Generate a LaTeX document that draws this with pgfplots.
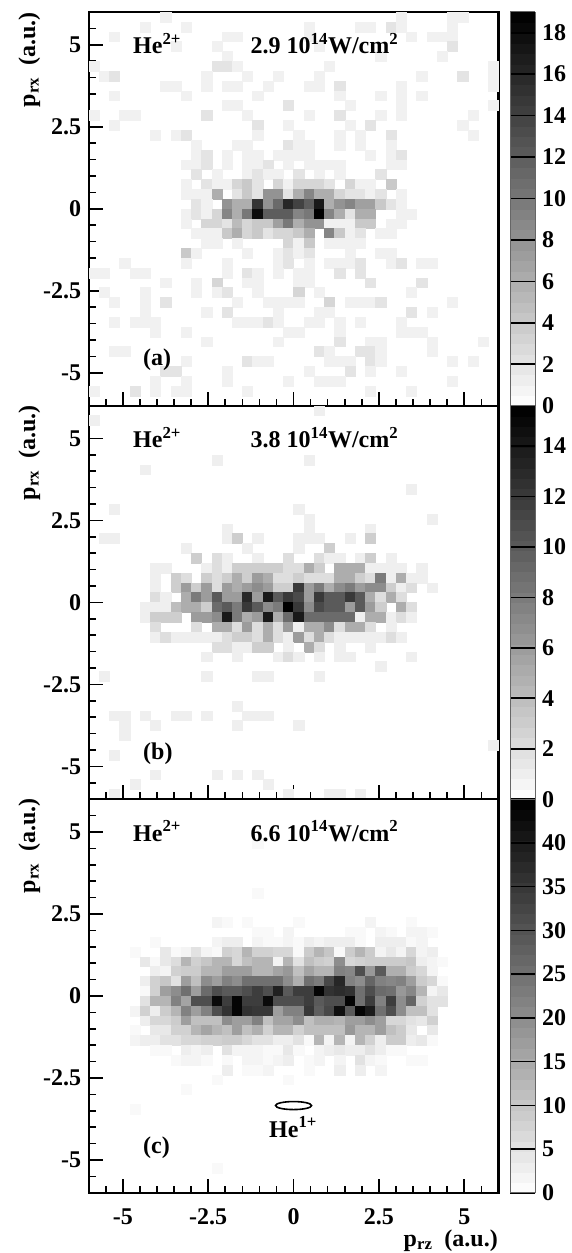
\documentclass[border=0pt]{standalone}
\usepackage{fontspec}
\setmainfont{Liberation Serif}
\usepackage{pgfplots}
\usepackage{pgfplotstable}
\pgfplotsset{compat=1.18}
\pgfplotstableread[row sep=\\]{
c r v\\
7 0 1\\ 30 0 1\\ 35 0 1\\ 36 0 1\\
5 1 1\\ 9 1 1\\ 21 1 1\\ 26 1 1\\ 27 1 1\\ 29 1 2\\ 30 1 1\\ 35 1 1\\
2 2 1\\ 13 2 1\\ 14 2 1\\ 21 2 1\\ 31 2 1\\ 33 2 1\\ 34 2 1\\ 35 2 1\\
8 3 1\\ 12 3 1\\ 22 3 1\\ 35 3 2\\
13 4 1\\ 28 4 1\\ 34 4 1\\
0 5 1\\ 12 5 2\\ 13 5 2\\ 14 5 1\\ 23 5 1\\ 39 5 1\\
1 6 1\\ 2 6 2\\ 11 6 1\\ 15 6 1\\ 18 6 1\\ 22 6 1\\ 32 6 1\\ 36 6 2\\ 39 6 1\\
7 7 1\\ 8 7 1\\ 11 7 1\\ 13 7 1\\ 14 7 1\\ 17 7 1\\ 21 7 1\\ 22 7 1\\ 24 7 2\\ 30 7 1\\ 39 7 1\\
2 8 1\\ 9 8 1\\ 16 8 1\\ 24 8 1\\ 28 8 1\\ 30 8 1\\ 32 8 1\\
13 9 1\\ 14 9 1\\ 19 9 2\\ 25 9 1\\ 30 9 1\\ 39 9 1\\
0 10 1\\ 3 10 1\\ 4 10 1\\ 11 10 2\\ 15 10 1\\ 21 10 1\\ 24 10 2\\ 28 10 1\\ 30 10 1\\ 37 10 1\\
2 11 1\\ 16 11 2\\ 19 11 1\\ 25 11 1\\ 27 11 2\\ 36 11 1\\
6 12 1\\ 8 12 1\\ 9 12 2\\ 16 12 1\\ 20 12 1\\ 24 12 1\\ 26 12 1\\ 29 12 2\\ 37 12 1\\
10 13 1\\ 14 13 1\\ 15 13 1\\ 19 13 2\\ 20 13 1\\ 21 13 1\\ 24 13 1\\ 26 13 1\\ 29 13 1\\
10 14 1\\ 11 14 2\\ 13 14 1\\ 15 14 1\\ 16 14 1\\ 18 14 1\\ 19 14 1\\ 20 14 1\\ 21 14 1\\ 27 14 1\\ 29 14 1\\ 30 14 2\\
9 15 1\\ 10 15 1\\ 11 15 2\\ 13 15 1\\ 15 15 1\\ 16 15 1\\ 17 15 2\\ 19 15 1\\ 21 15 1\\ 22 15 1\\ 23 15 1\\ 24 15 1\\ 29 15 1\\ 30 15 1\\
10 16 2\\ 12 16 1\\ 15 16 1\\ 16 16 2\\ 17 16 1\\ 18 16 1\\ 20 16 2\\ 22 16 1\\ 24 16 1\\ 28 16 2\\
9 17 1\\ 11 17 2\\ 12 17 1\\ 13 17 1\\ 14 17 3\\ 15 17 4\\ 16 17 2\\ 18 17 3\\ 19 17 1\\ 20 17 3\\ 21 17 3\\ 22 17 3\\ 23 17 2\\ 25 17 3\\ 26 17 1\\ 27 17 1\\ 29 17 4\\
9 18 1\\ 10 18 1\\ 11 18 1\\ 12 18 6\\ 14 18 2\\ 15 18 4\\ 16 18 2\\ 17 18 8\\ 18 18 8\\ 19 18 2\\ 20 18 6\\ 21 18 9\\ 22 18 6\\ 23 18 6\\ 24 18 3\\ 25 18 2\\ 26 18 2\\ 27 18 1\\ 28 18 2\\ 30 18 1\\
10 19 2\\ 11 19 1\\ 13 19 8\\ 14 19 6\\ 15 19 6\\ 16 19 15\\ 17 19 8\\ 18 19 11\\ 19 19 16\\ 20 19 14\\ 21 19 12\\ 22 19 17\\ 23 19 6\\ 24 19 8\\ 25 19 9\\ 26 19 7\\ 27 19 7\\ 28 19 4\\ 29 19 2\\ 30 19 1\\
9 20 1\\ 10 20 2\\ 11 20 1\\ 12 20 3\\ 13 20 9\\ 14 20 6\\ 15 20 10\\ 16 20 18\\ 17 20 12\\ 18 20 12\\ 19 20 12\\ 20 20 9\\ 21 20 10\\ 22 20 19\\ 23 20 9\\ 24 20 6\\ 25 20 2\\ 26 20 6\\ 27 20 6\\ 30 20 1\\ 31 20 1\\
9 21 1\\ 11 21 3\\ 12 21 3\\ 13 21 2\\ 14 21 5\\ 15 21 3\\ 16 21 4\\ 17 21 4\\ 18 21 7\\ 19 21 10\\ 20 21 6\\ 21 21 8\\ 22 21 8\\ 23 21 1\\ 24 21 1\\ 25 21 1\\ 26 21 4\\ 27 21 4\\ 29 21 1\\ 30 21 1\\
10 22 1\\ 11 22 1\\ 12 22 1\\ 13 22 4\\ 14 22 6\\ 15 22 3\\ 16 22 4\\ 17 22 2\\ 18 22 3\\ 19 22 3\\ 20 22 4\\ 21 22 6\\ 23 22 9\\ 24 22 4\\ 25 22 1\\ 26 22 2\\ 28 22 1\\ 29 22 1\\
11 23 1\\ 12 23 1\\ 14 23 1\\ 19 23 3\\ 20 23 1\\ 21 23 4\\ 23 23 1\\ 24 23 1\\ 25 23 1\\ 26 23 1\\
9 24 4\\ 10 24 1\\ 15 24 1\\ 18 24 1\\ 19 24 2\\ 20 24 1\\ 21 24 2\\ 25 24 1\\ 28 24 1\\ 29 24 1\\
3 25 1\\ 9 25 1\\ 13 25 1\\ 18 25 1\\ 19 25 2\\ 21 25 1\\ 23 25 1\\ 24 25 1\\ 25 25 1\\ 26 25 2\\ 29 25 1\\ 30 25 2\\ 32 25 1\\ 33 25 1\\
0 26 1\\ 1 26 1\\ 4 26 1\\ 5 26 1\\ 13 26 1\\ 15 26 2\\ 16 26 1\\ 18 26 1\\ 20 26 1\\ 21 26 1\\ 24 26 2\\ 26 26 2\\
7 27 1\\ 10 27 1\\ 12 27 3\\ 15 27 1\\ 16 27 1\\ 20 27 1\\ 21 27 1\\ 27 27 2\\ 32 27 2\\
1 28 1\\ 5 28 1\\ 10 28 1\\ 12 28 1\\ 13 28 2\\ 16 28 1\\ 20 28 3\\ 22 28 1\\ 31 28 1\\
2 29 1\\ 5 29 1\\ 7 29 2\\ 14 29 1\\ 17 29 1\\ 18 29 1\\ 19 29 1\\ 20 29 1\\ 23 29 3\\ 25 29 1\\ 26 29 1\\ 27 29 1\\ 28 29 2\\ 35 29 1\\
5 30 1\\ 11 30 1\\ 13 30 2\\ 18 30 1\\ 22 30 1\\ 23 30 1\\ 31 30 2\\ 33 30 1\\
2 31 1\\ 4 31 1\\ 5 31 1\\ 6 31 1\\ 14 31 1\\ 15 31 1\\ 16 31 1\\ 17 31 2\\ 18 31 1\\ 21 31 1\\ 22 31 1\\ 24 31 1\\ 26 31 1\\ 30 31 1\\
6 32 1\\ 9 32 1\\ 19 32 1\\ 20 32 1\\ 24 32 1\\ 30 32 1\\ 31 32 1\\ 32 32 1\\
11 33 1\\ 18 33 1\\ 24 33 2\\ 27 33 1\\ 28 33 1\\ 33 33 1\\ 38 33 1\\
2 34 1\\ 3 34 1\\ 22 34 2\\ 23 34 1\\ 26 34 2\\ 27 34 2\\ 28 34 1\\ 33 34 1\\
9 35 1\\ 15 35 2\\ 16 35 1\\ 17 35 1\\ 23 35 1\\ 24 35 1\\ 25 35 1\\ 27 35 2\\ 28 35 1\\ 35 35 1\\ 37 35 1\\
7 36 2\\ 8 36 2\\ 13 36 1\\ 21 36 1\\ 25 36 2\\ 27 36 1\\ 30 36 1\\
6 37 1\\ 9 37 1\\ 13 37 1\\ 19 37 1\\ 22 37 1\\ 23 37 1\\ 24 37 1\\ 35 37 1\\
0 38 1\\ 4 38 2\\ 6 38 1\\ 8 38 1\\ 9 38 1\\ 15 38 1\\ 27 38 1\\ 31 38 1\\
}\ta
\pgfplotstableread[row sep=\\]{
c r v\\
22 0 1\\ 0 1 1\\ 12 5 1\\ 21 5 1\\ 5 6 1\\ 31 8 1\\ 2 10 1\\ 20 10 1\\ 21 11 1\\ 33 11 1\\ 13 12 1\\ 21 12 1\\ 27 12 1\\
1 13 1\\ 2 13 1\\ 13 13 1\\ 14 13 3\\ 16 13 1\\ 20 13 1\\ 21 13 1\\ 22 13 1\\ 25 13 1\\ 27 13 3\\
9 14 1\\ 23 14 3\\ 15 14 1\\ 20 14 1\\
10 15 3\\ 12 15 2\\ 13 15 1\\ 16 15 1\\ 19 15 2\\ 22 15 2\\ 23 15 1\\ 24 15 1\\ 26 15 1\\ 27 15 3\\ 29 15 1\\
6 16 1\\ 7 16 1\\ 11 16 1\\ 12 16 2\\ 13 16 1\\ 14 16 3\\ 15 16 3\\ 16 16 3\\ 17 16 3\\ 18 16 3\\ 19 16 2\\ 20 16 2\\ 21 16 5\\ 22 16 3\\ 24 16 5\\ 25 16 5\\ 26 16 5\\ 27 16 1\\ 28 16 1\\ 29 16 1\\ 30 16 1\\ 32 16 1\\
6 17 1\\ 8 17 3\\ 9 17 2\\ 11 17 3\\ 12 17 2\\ 13 17 3\\ 14 17 5\\ 15 17 3\\ 16 17 6\\ 17 17 5\\ 18 17 2\\ 19 17 2\\ 20 17 3\\ 21 17 2\\ 22 17 2\\ 23 17 2\\ 24 17 5\\ 25 17 5\\ 26 17 3\\ 27 17 2\\ 28 17 8\\ 29 17 1\\ 30 17 5\\ 31 17 1\\ 32 17 1\\
6 18 1\\ 8 18 3\\ 9 18 6\\ 10 18 3\\ 11 18 6\\ 12 18 2\\ 13 18 6\\ 14 18 5\\ 15 18 6\\ 16 18 7\\ 17 18 6\\ 18 18 3\\ 19 18 3\\ 20 18 12\\ 21 18 6\\ 22 18 8\\ 23 18 5\\ 24 18 7\\ 25 18 8\\ 26 18 6\\ 27 18 7\\ 28 18 7\\ 29 18 3\\ 30 18 1\\ 31 18 2\\ 33 18 1\\
6 19 2\\ 7 19 1\\ 9 19 5\\ 10 19 8\\ 11 19 6\\ 12 19 10\\ 13 19 6\\ 14 19 6\\ 15 19 13\\ 16 19 6\\ 17 19 14\\ 18 19 10\\ 19 19 12\\ 20 19 11\\ 21 19 6\\ 22 19 12\\ 23 19 10\\ 24 19 10\\ 25 19 12\\ 26 19 10\\ 27 19 5\\ 28 19 2\\ 29 19 5\\ 30 19 2\\
5 20 1\\ 6 20 1\\ 7 20 1\\ 8 20 4\\ 9 20 5\\ 10 20 5\\ 11 20 3\\ 12 20 9\\ 13 20 10\\ 14 20 8\\ 15 20 12\\ 16 20 10\\ 17 20 7\\ 18 20 8\\ 19 20 16\\ 20 20 12\\ 21 20 7\\ 22 20 11\\ 23 20 10\\ 24 20 10\\ 25 20 6\\ 26 20 10\\ 27 20 6\\ 28 20 3\\ 30 20 5\\ 31 20 2\\
5 21 1\\ 6 21 3\\ 7 21 3\\ 8 21 3\\ 10 21 6\\ 11 21 6\\ 12 21 7\\ 13 21 14\\ 14 21 8\\ 15 21 5\\ 16 21 6\\ 17 21 14\\ 18 21 5\\ 19 21 9\\ 20 21 14\\ 21 21 9\\ 22 21 9\\ 23 21 9\\ 24 21 9\\ 25 21 9\\ 26 21 1\\ 27 21 5\\ 28 21 5\\ 29 21 1\\ 30 21 2\\ 31 21 1\\
6 22 2\\ 10 22 2\\ 12 22 5\\ 13 22 5\\ 14 22 2\\ 15 22 6\\ 16 22 2\\ 17 22 5\\ 18 22 2\\ 19 22 6\\ 20 22 1\\ 21 22 5\\ 22 22 5\\ 23 22 7\\ 24 22 2\\ 25 22 5\\ 26 22 5\\ 27 22 2\\ 29 22 1\\
6 23 1\\ 7 23 2\\ 8 23 1\\ 9 23 1\\ 10 23 1\\ 11 23 1\\ 12 23 1\\ 13 23 2\\ 14 23 3\\ 15 23 3\\ 16 23 2\\ 17 23 5\\ 18 23 2\\ 19 23 1\\ 20 23 6\\ 21 23 2\\ 22 23 5\\ 23 23 2\\ 24 23 1\\ 25 23 1\\ 26 23 1\\ 27 23 1\\ 28 23 1\\ 29 23 2\\ 30 23 1\\
12 24 2\\ 13 24 2\\ 14 24 1\\ 15 24 1\\ 16 24 3\\ 17 24 3\\ 19 24 1\\ 21 24 5\\ 22 24 2\\ 24 24 1\\ 27 24 1\\
11 25 1\\ 14 25 1\\ 18 25 1\\ 19 25 2\\ 20 25 1\\ 22 25 1\\ 24 25 1\\ 25 25 1\\ 31 25 1\\
28 26 1\\
1 27 1\\ 11 27 1\\ 16 27 1\\ 17 27 1\\ 22 27 1\\
14 30 1\\
2 31 1\\ 3 31 1\\ 5 31 1\\ 8 31 1\\ 9 31 1\\ 11 31 1\\ 15 31 1\\ 16 31 1\\ 17 31 1\\
3 32 1\\ 6 32 1\\ 14 32 1\\ 20 32 1\\
3 33 1\\ 39 34 1\\ 2 35 1\\
6 37 1\\ 12 37 1\\ 14 37 1\\ 16 37 1\\
4 38 1\\ 17 38 1\\
2 39 1\\ 19 39 1\\ 23 39 1\\ 24 39 1\\ 26 39 1\\
}\tb
\pgfplotstableread[row sep=\\]{
c r v\\
16 4 1\\ 16 9 1\\
12 12 2\\ 13 12 1\\ 15 12 1\\ 20 12 1\\ 27 12 2\\ 31 12 1\\
16 13 1\\ 17 13 1\\ 19 13 2\\ 25 13 1\\ 26 13 1\\ 28 13 2\\ 29 13 1\\ 31 13 2\\ 32 13 2\\ 33 13 1\\
6 14 1\\ 12 14 2\\ 13 14 3\\ 14 14 3\\ 16 14 2\\ 17 14 1\\ 18 14 1\\ 19 14 2\\ 20 14 1\\ 21 14 3\\ 22 14 2\\ 23 14 3\\ 24 14 3\\ 25 14 3\\ 26 14 1\\ 28 14 3\\ 29 14 3\\ 30 14 3\\ 31 14 1\\ 32 14 2\\
4 15 1\\ 7 15 4\\ 8 15 1\\ 9 15 2\\ 10 15 5\\ 11 15 2\\ 12 15 1\\ 13 15 8\\ 14 15 7\\ 15 15 13\\ 16 15 8\\ 17 15 8\\ 18 15 7\\ 19 15 7\\ 20 15 1\\ 21 15 9\\ 22 15 13\\ 23 15 10\\ 24 15 1\\ 25 15 9\\ 26 15 13\\ 27 15 9\\ 28 15 2\\ 29 15 4\\ 30 15 2\\ 31 15 7\\ 32 15 2\\ 33 15 3\\
5 16 4\\ 6 16 1\\ 7 16 4\\ 8 16 6\\ 9 16 13\\ 10 16 8\\ 11 16 10\\ 12 16 13\\ 13 16 13\\ 14 16 7\\ 15 16 11\\ 16 16 13\\ 17 16 13\\ 18 16 2\\ 19 16 13\\ 20 16 5\\ 21 16 11\\ 22 16 9\\ 23 16 8\\ 24 16 20\\ 25 16 7\\ 26 16 8\\ 27 16 9\\ 28 16 9\\ 29 16 9\\ 30 16 9\\ 31 16 10\\ 32 16 3\\ 33 16 2\\ 34 16 1\\
6 17 3\\ 7 17 2\\ 8 17 8\\ 9 17 9\\ 10 17 9\\ 11 17 13\\ 12 17 13\\ 13 17 17\\ 14 17 17\\ 15 17 17\\ 16 17 13\\ 17 17 13\\ 18 17 16\\ 19 17 18\\ 20 17 11\\ 21 17 16\\ 22 17 13\\ 23 17 13\\ 24 17 22\\ 25 17 21\\ 26 17 31\\ 27 17 18\\ 28 17 29\\ 29 17 14\\ 30 17 14\\ 31 17 9\\ 32 17 7\\ 33 17 2\\
5 18 3\\ 6 18 8\\ 7 18 10\\ 8 18 5\\ 9 18 17\\ 10 18 11\\ 11 18 20\\ 12 18 17\\ 13 18 22\\ 14 18 20\\ 15 18 25\\ 16 18 25\\ 17 18 25\\ 18 18 25\\ 19 18 20\\ 20 18 14\\ 21 18 25\\ 22 18 23\\ 23 18 32\\ 24 18 38\\ 25 18 22\\ 26 18 20\\ 27 18 27\\ 28 18 22\\ 29 18 21\\ 30 18 22\\ 31 18 17\\ 32 18 9\\ 33 18 7\\ 34 18 1\\
5 19 1\\ 6 19 8\\ 7 19 17\\ 8 19 20\\ 9 19 25\\ 10 19 17\\ 11 19 26\\ 12 19 31\\ 13 19 29\\ 14 19 29\\ 15 19 31\\ 16 19 34\\ 17 19 31\\ 18 19 39\\ 19 19 29\\ 20 19 34\\ 21 19 34\\ 22 19 44\\ 23 19 36\\ 24 19 37\\ 25 19 36\\ 26 19 25\\ 27 19 31\\ 28 19 26\\ 29 19 25\\ 30 19 18\\ 31 19 21\\ 32 19 13\\ 33 19 2\\ 34 19 4\\
5 20 5\\ 6 20 13\\ 7 20 13\\ 8 20 22\\ 9 20 16\\ 10 20 31\\ 11 20 31\\ 12 20 43\\ 13 20 34\\ 14 20 44\\ 15 20 34\\ 16 20 34\\ 17 20 43\\ 18 20 31\\ 19 20 31\\ 20 20 31\\ 21 20 34\\ 22 20 29\\ 23 20 31\\ 24 20 31\\ 25 20 44\\ 26 20 25\\ 27 20 34\\ 28 20 22\\ 29 20 34\\ 30 20 20\\ 31 20 27\\ 32 20 8\\ 33 20 5\\ 34 20 5\\
4 21 2\\ 5 21 8\\ 6 21 3\\ 7 21 9\\ 8 21 13\\ 9 21 22\\ 10 21 17\\ 11 21 22\\ 12 21 31\\ 13 21 36\\ 14 21 44\\ 15 21 36\\ 16 21 35\\ 17 21 35\\ 18 21 17\\ 19 21 22\\ 20 21 22\\ 21 21 35\\ 22 21 28\\ 23 21 32\\ 24 21 42\\ 25 21 29\\ 26 21 44\\ 27 21 40\\ 28 21 25\\ 29 21 31\\ 30 21 20\\ 31 21 11\\ 32 21 11\\ 33 21 5\\
5 22 3\\ 6 22 7\\ 7 22 7\\ 8 22 9\\ 9 22 17\\ 10 22 11\\ 11 22 11\\ 12 22 11\\ 13 22 20\\ 14 22 17\\ 15 22 17\\ 16 22 22\\ 17 22 11\\ 18 22 16\\ 19 22 16\\ 20 22 20\\ 21 22 11\\ 22 22 14\\ 23 22 14\\ 24 22 13\\ 25 22 17\\ 26 22 17\\ 27 22 20\\ 28 22 17\\ 29 22 7\\ 30 22 7\\ 31 22 5\\ 32 22 4\\ 33 22 8\\
4 23 1\\ 6 23 4\\ 7 23 4\\ 8 23 8\\ 9 23 8\\ 10 23 13\\ 11 23 16\\ 12 23 13\\ 13 23 11\\ 14 23 17\\ 15 23 11\\ 16 23 14\\ 17 23 8\\ 18 23 13\\ 19 23 13\\ 20 23 8\\ 21 23 11\\ 22 23 11\\ 23 23 11\\ 24 23 11\\ 25 23 18\\ 26 23 13\\ 27 23 13\\ 28 23 17\\ 29 23 11\\ 30 23 9\\ 31 23 4\\ 33 23 4\\
4 24 2\\ 5 24 3\\ 6 24 3\\ 7 24 5\\ 8 24 5\\ 9 24 7\\ 10 24 7\\ 11 24 8\\ 12 24 8\\ 13 24 9\\ 14 24 9\\ 15 24 7\\ 16 24 5\\ 17 24 5\\ 18 24 3\\ 19 24 3\\ 20 24 5\\ 21 24 1\\ 22 24 13\\ 23 24 2\\ 24 24 13\\ 25 24 2\\ 26 24 13\\ 27 24 8\\ 28 24 3\\ 29 24 9\\ 30 24 9\\ 31 24 3\\ 32 24 4\\ 33 24 1\\
6 25 1\\ 7 25 1\\ 9 25 3\\ 10 25 2\\ 11 25 3\\ 13 25 5\\ 14 25 2\\ 15 25 2\\ 16 25 2\\ 17 25 1\\ 18 25 1\\ 19 25 4\\ 20 25 1\\ 22 25 2\\ 23 25 3\\ 24 25 4\\ 25 25 3\\ 26 25 3\\ 27 25 5\\ 28 25 3\\ 29 25 1\\ 30 25 1\\
8 26 1\\ 9 26 2\\ 10 26 2\\ 11 26 1\\ 13 26 1\\ 15 26 2\\ 16 26 2\\ 17 26 1\\ 18 26 2\\ 19 26 3\\ 21 26 1\\ 22 26 2\\ 24 26 2\\ 26 26 5\\ 27 26 2\\ 28 26 1\\ 31 26 1\\ 32 26 1\\
13 27 3\\ 15 27 1\\ 16 27 1\\ 17 27 2\\ 21 27 1\\ 24 27 3\\ 26 27 3\\ 28 27 2\\
12 28 1\\ 19 28 1\\ 9 29 1\\ 4 31 1\\ 12 37 1\\
}\tc
\pgfplotsset{
  panel/.style={
    scale only axis, width=409.7pt, height=393.6pt,
    xmin=-6, xmax=6, ymin=-6, ymax=6,
    axis on top, axis line style={line width=2.2pt},
    xtick={-5,-2.5,0,2.5,5}, ytick={-5,-2.5,0,2.5,5},
    yticklabels={-5,-2.5,0,2.5,5},
    minor xtick={-5.5,-4.5,-4,-3.5,-3,-2,-1.5,-1,-0.5,0.5,1,1.5,2,3,3.5,4,4.5,5.5},
    minor ytick={-5.5,-4.5,-4,-3.5,-3,-2,-1.5,-1,-0.5,0.5,1,1.5,2,3,3.5,4,4.5,5.5},
    tick align=inside, xtick pos=bottom, ytick pos=left,
    major tick length=14pt, minor tick length=7pt,
    tick style={black, line width=1.6pt},
    minor tick style={black, line width=1.6pt},
    tick label style={font=\fontsize{24}{24}\selectfont\bfseries},
    yticklabel style={xshift=-4pt},
    xticklabel style={yshift=-12pt},
    colormap={bw}{gray(0cm)=(1); gray(1cm)=(0)},
    colorbar sampled,
    colorbar style={
      at={(1.0295,1)}, anchor=north west, width=25pt,
      scale only axis, samples=39,
      ytick pos=right, yticklabel pos=right,
      tick align=inside, major tick length=25pt,
      tick style={black, line width=1.6pt},
      axis line style={draw=black!60, line width=1pt},
      /pgf/number format/assume math mode=true,
      yticklabel style={xshift=3pt, font=\fontsize{24}{24}\selectfont\bfseries},
      xtick=\empty,
    },
  },
  hcells/.style={
    scatter, only marks, mark=square*, mark size=5.125pt,
    scatter/use mapped color={draw=mapped color, fill=mapped color},
    mark options={yscale=0.96, line width=0.2pt, draw=mapped color, fill=mapped color},
    point meta=\thisrow{v},
  },
}
\newcommand{\lbl}[1]{\fontsize{24}{24}\selectfont\bfseries #1}
\begin{document}
\begin{tikzpicture}
\path[use as bounding box] (0pt,0pt) rectangle (571pt,-1253pt);
\begin{axis}[panel, at={(88.7pt,-405.6pt)}, anchor=south west, xticklabels={},
  point meta min=0, point meta max=19,
  colorbar style={ytick={0,2,...,18}}]
\addplot[hcells] table[x expr=-5.85+0.3*\thisrow{c}, y expr=5.85-0.3*\thisrow{r}] {\ta};
\end{axis}
\begin{axis}[panel, at={(88.7pt,-799.2pt)}, anchor=south west, xticklabels={},
  point meta min=0, point meta max=15.6,
  colorbar style={ytick={0,2,...,14}}]
\addplot[hcells] table[x expr=-5.85+0.3*\thisrow{c}, y expr=5.85-0.3*\thisrow{r}] {\tb};
\end{axis}
\begin{axis}[panel, at={(88.7pt,-1192.8pt)}, anchor=south west, xticklabels={-5,-2.5,0,2.5,5},
  point meta min=0, point meta max=45,
  colorbar style={ytick={0,5,...,40}}]
\addplot[hcells] table[x expr=-5.85+0.3*\thisrow{c}, y expr=5.85-0.3*\thisrow{r}] {\tc};
\draw[line width=1.6pt] (axis cs:0,-3.34) ellipse [x radius=18pt, y radius=4pt];
\end{axis}
\foreach \yb/\txt/\lb/\ylab/\tg in {53.7/2.9/12/365/(a), 447.7/3.8/405/759/(b), 841/6.6/798/1153/(c)}{
  \node[anchor=base west, inner sep=0pt] at (133pt,-\yb pt) {\lbl{He\textsuperscript{2+}}};
  \node[anchor=base west, inner sep=0pt] at (250.5pt,-\yb pt) {\lbl{\txt{} 10\textsuperscript{14}W/cm\textsuperscript{2}}};
  \node[anchor=base west, inner sep=0pt] at (143pt,-\ylab pt) {\lbl{\tg}};
  \node[anchor=base east, inner sep=0pt, rotate=90] at (35pt,-\lb pt) {\lbl{p\textsubscript{rx}\ \ (a.u.)}};
}
\node[anchor=base west, inner sep=0pt] at (269pt,-1137pt) {\lbl{He\textsuperscript{1+}}};
\node[anchor=base east, inner sep=0pt] at (498pt,-1246pt) {\lbl{p\textsubscript{rz}\ \ (a.u.)}};
\end{tikzpicture}
\end{document}
